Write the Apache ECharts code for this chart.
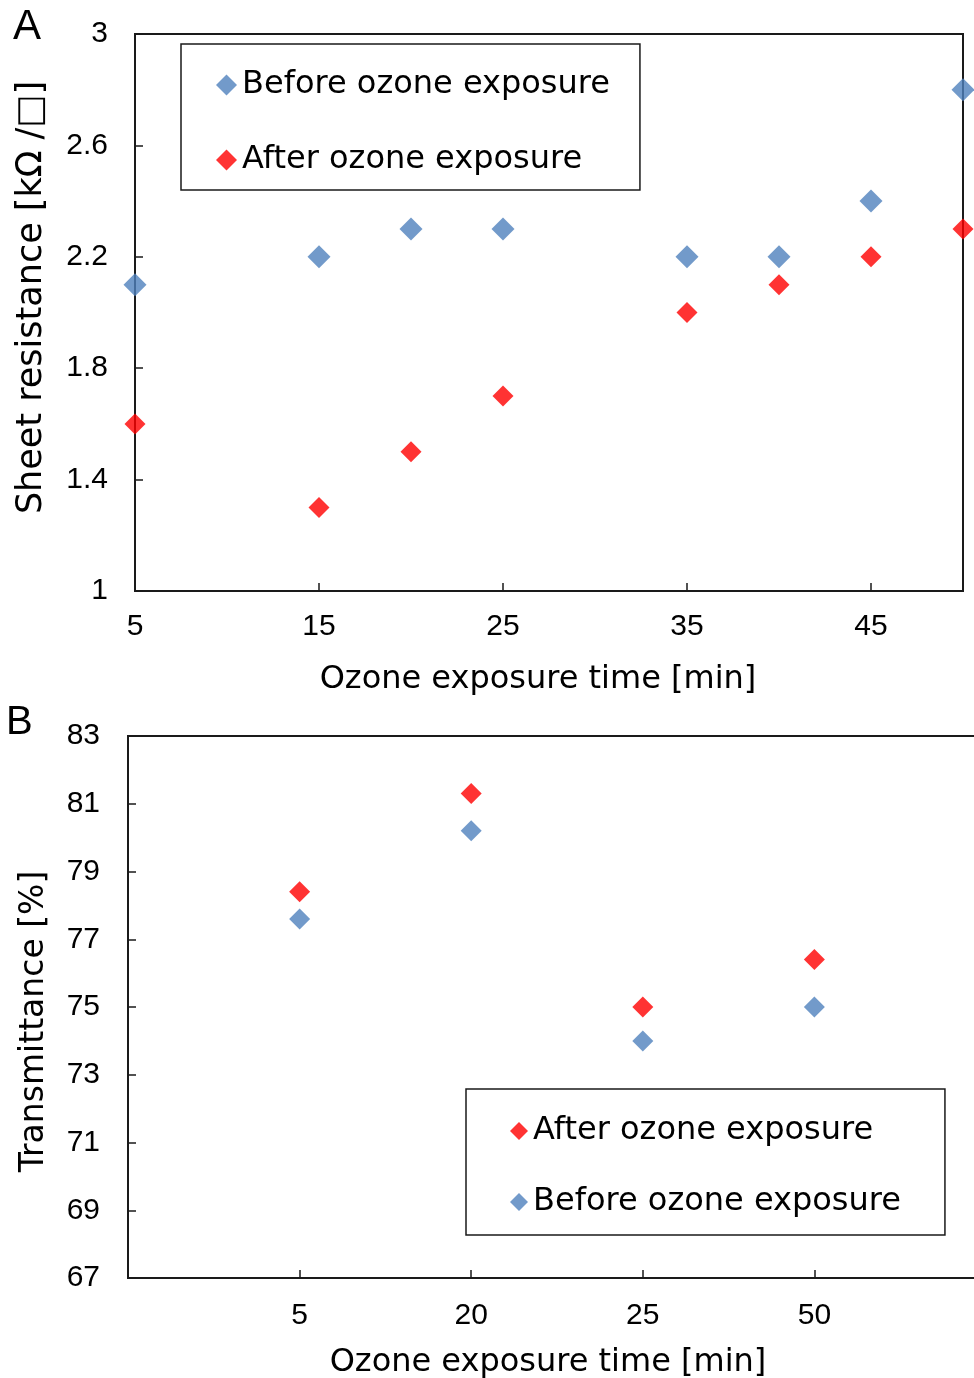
<!DOCTYPE html>
<html>
<head>
<meta charset="utf-8">
<script src="https://cdn.jsdelivr.net/npm/echarts@6/dist/echarts.min.js"></script>
<style>
html,body{margin:0;padding:0;background:#fff;overflow:hidden;}
#chart{width:974px;height:1378px;}
</style>
</head>
<body>
<div id="chart"></div>
<script>
// ---- Panel A data ----
const xA = [5, 15, 20, 25, 35, 40, 45, 50];
const beforeA = [2.1, 2.2, 2.3, 2.3, 2.2, 2.2, 2.4, 2.8];
const afterA = [1.6, 1.3, 1.5, 1.7, 2.0, 2.1, 2.2, 2.3];
const xTicksA = [5, 15, 25, 35, 45];
const yTicksA = [1, 1.4, 1.8, 2.2, 2.6, 3];

// ---- Panel B data ----
const xCatsB = ['5', '20', '25', '50'];
const afterB = [78.4, 81.3, 75.0, 76.4];
const beforeB = [77.6, 80.2, 74.0, 75.0];
const yTicksB = [67, 69, 71, 73, 75, 77, 79, 81, 83];

const BEFORE = 'Before ozone exposure';
const AFTER = 'After ozone exposure';
const BLUE = '#4F81BD';
const RED = '#FF0000';
const LINE = '#1a1a1a';
const TICKFONT = 'Liberation Sans';
const TEXTFONT = 'DejaVu Sans';

const chart = echarts.init(document.getElementById('chart'), null, {renderer: 'canvas'});

const xCatsBFull = [''].concat(xCatsB).concat([' ']);

const axisLineStyle = {show: true, lineStyle: {color: LINE, width: 2}};
const tickStyle = {show: true, inside: true, length: 8, lineStyle: {color: LINE, width: 1.5}};

const option = {
  animation: false,
  backgroundColor: '#fff',
  grid: [
    {left: 135, top: 34, width: 828, height: 557, show: true, borderColor: LINE, borderWidth: 2, containLabel: false, outerBoundsMode: 'none'},
    {left: 128, top: 736, width: 858, height: 542, show: true, borderColor: LINE, borderWidth: 2, containLabel: false, outerBoundsMode: 'none'}
  ],
  xAxis: [
    {
      type: 'value', gridIndex: 0, min: 5, max: 50, interval: 5,
      splitLine: {show: false},
      axisLine: axisLineStyle,
      axisTick: Object.assign({}, tickStyle, {customValues: xTicksA.slice(1)}),
      axisLabel: {customValues: xTicksA, margin: 21, fontFamily: TICKFONT, fontSize: 30, color: '#000'},
      name: 'Ozone exposure time [min]', nameLocation: 'middle', nameGap: 73,
      nameTextStyle: {fontFamily: TEXTFONT, fontSize: 32, color: '#000', padding: [0, 22, 0, 0]}
    },
    {
      type: 'category', gridIndex: 1, data: xCatsBFull, boundaryGap: false,
      splitLine: {show: false},
      axisLine: axisLineStyle,
      axisTick: Object.assign({}, tickStyle),
      axisLabel: {margin: 23, fontFamily: TICKFONT, fontSize: 30, color: '#000', interval: 0},
      name: 'Ozone exposure time [min]', nameLocation: 'middle', nameGap: 69,
      nameTextStyle: {fontFamily: TEXTFONT, fontSize: 32, color: '#000', padding: [0, 18, 0, 0]}
    }
  ],
  yAxis: [
    {
      type: 'value', gridIndex: 0, min: 1, max: 3, interval: 0.2,
      splitLine: {show: false},
      axisLine: axisLineStyle,
      axisTick: Object.assign({}, tickStyle, {customValues: yTicksA}),
      axisLabel: {customValues: yTicksA, margin: 27, fontFamily: TICKFONT, fontSize: 30, color: '#000'},
      name: 'Sheet resistance [kΩ /□]', nameLocation: 'middle', nameGap: 86,
      nameTextStyle: {fontFamily: TEXTFONT, fontSize: 35, color: '#000', padding: [0, 0, 0, 30]}
    },
    {
      type: 'value', gridIndex: 1, min: 67, max: 83, interval: 1,
      splitLine: {show: false},
      axisLine: axisLineStyle,
      axisTick: Object.assign({}, tickStyle, {customValues: yTicksB}),
      axisLabel: {customValues: yTicksB, margin: 28, fontFamily: TICKFONT, fontSize: 30, color: '#000'},
      name: 'Transmittance [%]', nameLocation: 'middle', nameGap: 77,
      nameTextStyle: {fontFamily: TEXTFONT, fontSize: 33, color: '#000', padding: [0, 29, 0, 0]}
    }
  ],
  legend: [
    {
      data: [BEFORE, AFTER], orient: 'vertical', left: 181, top: 44,
      padding: [25, 30, 14, 35], itemGap: 43, itemWidth: 21, itemHeight: 21, icon: 'diamond',
      borderColor: LINE, borderWidth: 1.5, backgroundColor: '#fff',
      textStyle: {fontFamily: TEXTFONT, fontSize: 32, color: '#000'},
      selectedMode: false
    },
    {
      data: [AFTER, BEFORE], orient: 'vertical', left: 466, top: 1089,
      padding: [26, 44, 17, 44], itemGap: 39, itemWidth: 18, itemHeight: 18, icon: 'diamond',
      borderColor: LINE, borderWidth: 1.5, backgroundColor: '#fff',
      textStyle: {fontFamily: TEXTFONT, fontSize: 32, color: '#000'},
      selectedMode: false
    }
  ],
  graphic: [
    {type: 'text', left: 13, top: 6, style: {text: 'A', fontFamily: 'Liberation Sans', fontSize: 42, fill: '#000'}},
    {type: 'text', left: 6, top: 703, style: {text: 'B', fontFamily: 'Liberation Sans', fontSize: 40, fill: '#000'}}
  ],
  series: [
    {
      name: BEFORE, type: 'scatter', xAxisIndex: 0, yAxisIndex: 0, clip: false,
      symbol: 'diamond', symbolSize: 23, itemStyle: {color: BLUE},
      data: xA.map((x, i) => [x, beforeA[i]])
    },
    {
      name: AFTER, type: 'scatter', xAxisIndex: 0, yAxisIndex: 0, clip: false,
      symbol: 'diamond', symbolSize: 21, itemStyle: {color: RED},
      data: xA.map((x, i) => [x, afterA[i]])
    },
    {
      name: AFTER, type: 'scatter', xAxisIndex: 1, yAxisIndex: 1, clip: false,
      symbol: 'diamond', symbolSize: 21, itemStyle: {color: RED},
      data: xCatsB.map((c, i) => [c, afterB[i]])
    },
    {
      name: BEFORE, type: 'scatter', xAxisIndex: 1, yAxisIndex: 1, clip: false,
      symbol: 'diamond', symbolSize: 21, itemStyle: {color: BLUE},
      data: xCatsB.map((c, i) => [c, beforeB[i]])
    }
  ]
};
chart.setOption(option);
</script>
</body>
</html>
